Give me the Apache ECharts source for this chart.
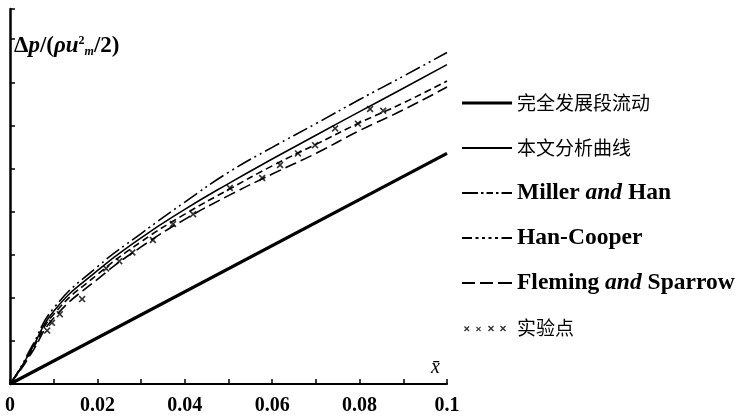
<!DOCTYPE html>
<html>
<head>
<meta charset="utf-8">
<script src="https://cdn.jsdelivr.net/npm/echarts@6/dist/echarts.min.js"></script>
<style>html,body{margin:0;padding:0;background:#fff}#c{width:739px;height:416px}</style>
</head>
<body>
<div id="c"></div>
<script>
// x positions (x̄)
var xs = [0, 0.0025, 0.005, 0.01, 0.02, 0.03, 0.04, 0.05, 0.06, 0.07, 0.08, 0.09, 0.1];
// fully developed flow
var fullyX = [0, 0.1];
var fullyY = [0, 5.35];
// present analysis
var analysisY = [0, 0.38, 0.82, 1.69, 2.63, 3.39, 4.05, 4.65, 5.22, 5.77, 6.32, 6.86, 7.41];
// Miller and Han
var millerY = [0, 0.40, 0.87, 1.76, 2.72, 3.49, 4.22, 4.91, 5.49, 6.04, 6.60, 7.14, 7.69];
// Han-Cooper
var hanY = [0, 0.36, 0.78, 1.62, 2.54, 3.30, 3.94, 4.51, 5.06, 5.56, 6.06, 6.52, 7.03];
// Fleming and Sparrow
var flemingY = [0, 0.34, 0.73, 1.53, 2.43, 3.18, 3.82, 4.37, 4.87, 5.35, 5.88, 6.36, 6.89];
// experimental points
var expX = [0.0085, 0.0096, 0.0114, 0.0165, 0.022, 0.025, 0.028, 0.0327, 0.0373, 0.0419, 0.0503, 0.0577, 0.0618, 0.0659, 0.0698, 0.0744, 0.0796, 0.0824, 0.0854];
var expY = [1.24, 1.42, 1.62, 1.97, 2.68, 2.85, 3.05, 3.34, 3.71, 3.94, 4.55, 4.78, 5.08, 5.35, 5.54, 5.93, 6.04, 6.38, 6.34];
var xTicks = [0, 0.02, 0.04, 0.06, 0.08, 0.1];
var xTickLabels = ['0', '0.02', '0.04', '0.06', '0.08', '0.1'];

var names = ['完全发展段流动', '本文分析曲线', 'Miller and Han', 'Han-Cooper', 'Fleming and Sparrow', '实验点'];

function pairs(x, y) { return x.map(function (v, i) { return [v, y[i]]; }); }

// ---- legend / marker icon shapes (drawing helpers only) ----
var W = 50, H = 30;
var frame = 'M0,0L0.05,0L0,0.05Z M' + W + ',' + H + 'L' + (W - 0.05) + ',' + H + 'L' + W + ',' + (H - 0.05) + 'Z ';
function seg(a, b, t) {
  var y0 = H / 2 - t / 2, y1 = H / 2 + t / 2;
  return 'M' + a + ',' + y0 + 'L' + b + ',' + y0 + 'L' + b + ',' + y1 + 'L' + a + ',' + y1 + 'Z ';
}
function segs(list, t) { return 'path://' + frame + list.map(function (s) { return seg(s[0], s[1], t); }).join(''); }
function xAt(ox, oy, s) {
  var k = s / 6;
  var pts = [[0, 1], [1, 0], [3, 2], [5, 0], [6, 1], [4, 3], [6, 5], [5, 6], [3, 4], [1, 6], [0, 5], [2, 3]];
  return 'M' + pts.map(function (p) { return (ox + p[0] * k) + ',' + (oy + p[1] * k); }).join('L') + 'Z ';
}
var xMark = 'path://' + xAt(0, 0, 6);
var icons = [
  segs([[0, 50]], 3.2),
  segs([[0, 50]], 1.8),
  segs([[0, 16], [19, 21.5], [24.5, 31], [34, 36.5], [39.5, 50]], 2),
  segs([[0, 10], [13.5, 16.5], [20, 23], [26.5, 29.5], [33, 36], [39.5, 50]], 2),
  segs([[0, 13], [18, 31], [36, 50]], 2),
  'path://' + frame + xAt(2, 13, 5.5) + xAt(14, 13.5, 5) + xAt(26, 12.5, 6) + xAt(38, 12.5, 6)
];

var serif = 'Liberation Serif';
var cjk = 'Noto Sans CJK SC';

var chart = echarts.init(document.getElementById('c'), null, { renderer: 'canvas' });
chart.setOption({
  backgroundColor: '#fff',
  animation: false,
  color: ['#000'],
  grid: { left: 10, right: 292, top: 9, bottom: 27, containLabel: false },
  legend: {
    orient: 'vertical',
    left: 462,
    top: 88,
    padding: 0,
    itemWidth: W,
    itemHeight: H,
    itemGap: 15,
    data: names.map(function (n, i) { return { name: n, icon: icons[i] }; }),
    formatter: function (n) {
      if (n === 'Miller and Han') return '{l|Miller }{i|and}{l| Han}';
      if (n === 'Fleming and Sparrow') return '{l|Fleming }{i|and}{l| Sparrow}';
      if (n === 'Han-Cooper') return '{l|Han-Cooper}';
      return '{c|' + n + '}';
    },
    textStyle: {
      color: '#000',
      rich: {
        l: { fontFamily: serif, fontSize: 23.5, color: '#000', fontWeight: 'bold' },
        i: { fontFamily: serif, fontSize: 23.5, color: '#000', fontStyle: 'italic', fontWeight: 'bold' },
        c: { fontFamily: cjk, fontSize: 19, color: '#000' }
      }
    }
  },
  xAxis: {
    type: 'value', min: 0, max: 0.1, interval: 0.02,
    name: 'x\u0304',
    nameLocation: 'end',
    nameGap: -16,
    nameTextStyle: { fontFamily: serif, fontSize: 20, fontStyle: 'italic', color: '#000', verticalAlign: 'bottom', padding: [0, 0, 6, 0] },
    axisLine: { lineStyle: { color: '#000', width: 2 } },
    axisTick: { inside: true, length: 5, lineStyle: { color: '#000', width: 1.5 } },
    minorTick: { show: true, splitNumber: 2, length: 5, lineStyle: { color: '#000', width: 1.5 } },
    axisLabel: {
      margin: 12, color: '#000', fontFamily: serif, fontSize: 20, fontWeight: 'bold',
      formatter: function (v) {
        for (var i = 0; i < xTicks.length; i++) if (Math.abs(v - xTicks[i]) < 1e-9) return xTickLabels[i];
        return '';
      }
    },
    splitLine: { show: false }
  },
  yAxis: {
    type: 'value', min: 0, max: 8.7, interval: 1,
    name: '{t|\u0394}{v|p}{t|/(}{v|\u03C1u}{s|2}{b|m}{t|/2)}',
    nameLocation: 'end',
    nameGap: -37,
    nameTextStyle: {
      align: 'left', verticalAlign: 'middle', padding: [0, 0, 0, 4],
      rich: {
        t: { fontFamily: serif, fontSize: 23, color: '#000', fontWeight: 'bold' },
        v: { fontFamily: serif, fontSize: 23, color: '#000', fontStyle: 'italic', fontWeight: 'bold' },
        s: { fontFamily: serif, fontSize: 12, color: '#000', fontWeight: 'bold', verticalAlign: 'top', padding: [0, 0, 8, 0] },
        b: { fontFamily: serif, fontSize: 12, color: '#000', fontStyle: 'italic', fontWeight: 'bold', verticalAlign: 'bottom', padding: [4, 0, 0, 0] }
      }
    },
    axisLine: { lineStyle: { color: '#000', width: 2.5 } },
    axisTick: { inside: true, length: 5, lineStyle: { color: '#000', width: 1.5 } },
    axisLabel: { show: false },
    splitLine: { show: false }
  },
  series: [
    { name: names[0], type: 'line', data: pairs(fullyX, fullyY), symbol: 'none', itemStyle: { color: '#000' }, lineStyle: { color: '#000', width: 3.2 } },
    { name: names[1], type: 'line', data: pairs(xs, analysisY), smooth: true, symbol: 'none', itemStyle: { color: '#000' }, lineStyle: { color: '#000', width: 1.6 } },
    { name: names[2], type: 'line', data: pairs(xs, millerY), smooth: true, symbol: 'none', itemStyle: { color: '#000' }, lineStyle: { color: '#000', width: 1.6, type: [16, 4, 2, 4, 2, 4] } },
    { name: names[3], type: 'line', data: pairs(xs, hanY), smooth: true, symbol: 'none', itemStyle: { color: '#000' }, lineStyle: { color: '#000', width: 1.6, type: [7, 4] } },
    { name: names[4], type: 'line', data: pairs(xs, flemingY), smooth: true, symbol: 'none', itemStyle: { color: '#000' }, lineStyle: { color: '#000', width: 1.6, type: [12, 5] } },
    { name: names[5], type: 'scatter', data: pairs(expX, expY), symbol: xMark, symbolSize: 7, itemStyle: { color: '#000' } }
  ]
});
</script>
</body>
</html>
